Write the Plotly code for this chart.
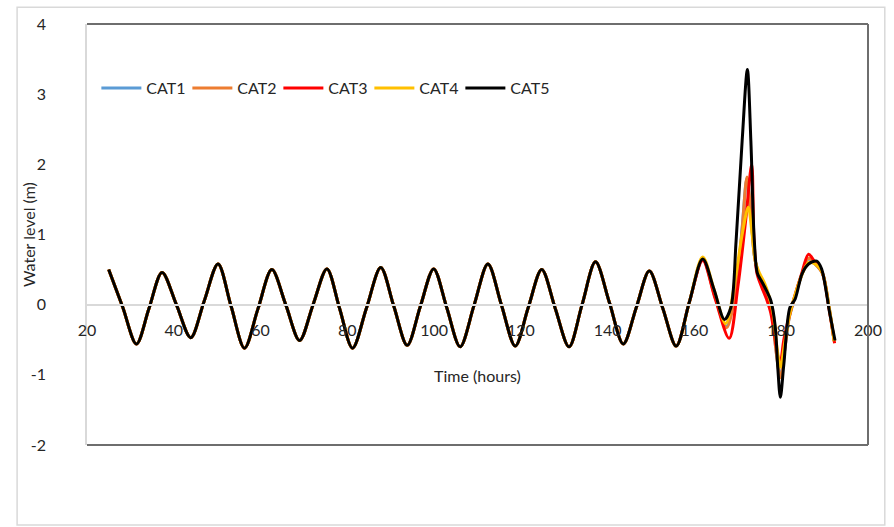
import plotly.graph_objects as go

# ---------------- data ----------------
# Tidal part, common to all five categories (curves coincide up to ~160 h)
tide_hours = [25.0, 28.2, 31.4, 34.3, 37.3, 40.6, 43.9, 47.0, 50.2, 53.2, 56.3, 59.4,
              62.6, 65.8, 69.0, 72.1, 75.3, 78.2, 81.2, 84.4, 87.7, 90.7, 93.8, 96.8,
              99.9, 102.9, 106.0, 109.2, 112.4, 115.5, 118.7, 121.7, 124.8, 127.9,
              131.1, 134.1, 137.2, 140.4, 143.6, 146.6, 149.6, 152.7, 155.8, 158.8]
tide_level = [0.50, -0.03, -0.56, -0.05, 0.46, 0.00, -0.47, 0.05, 0.58, -0.02, -0.62, -0.06,
              0.50, 0.00, -0.51, 0.00, 0.51, -0.05, -0.62, -0.05, 0.53, -0.02, -0.58, -0.03,
              0.51, -0.04, -0.60, -0.01, 0.58, 0.00, -0.59, -0.04, 0.50, -0.05,
              -0.60, 0.00, 0.61, 0.03, -0.56, -0.04, 0.48, -0.05, -0.59, 0.03]

# Storm part, one array pair per category
cat1_hours = [161.9, 164.6, 167.3, 169.8, 171.0, 172.1, 173.0, 173.8, 174.5, 175.7, 176.8,
              177.8, 178.8, 179.8, 180.9, 181.8, 183.1, 184.6, 186.3, 187.8, 189.5, 191.0, 192.2]
cat1_level = [0.65, 0.15, -0.31, 0.35, 1.10, 1.80, 1.30, 0.70, 0.50, 0.30, 0.15,
              -0.10, -0.65, -1.02, -0.60, -0.20, 0.10, 0.40, 0.65, 0.58, 0.45, -0.02, -0.52]

cat2_hours = [161.9, 164.6, 167.4, 169.8, 171.0, 172.1, 173.0, 173.8, 174.5, 175.7, 176.8,
              177.8, 178.8, 179.8, 180.9, 181.8, 183.1, 184.6, 186.3, 187.8, 189.5, 191.0, 192.2]
cat2_level = [0.65, 0.14, -0.33, 0.33, 1.08, 1.82, 1.30, 0.70, 0.50, 0.30, 0.14,
              -0.10, -0.66, -1.04, -0.60, -0.20, 0.10, 0.40, 0.66, 0.58, 0.45, -0.03, -0.52]

cat3_hours = [161.9, 164.8, 168.0, 170.0, 171.8, 173.2, 173.7, 174.4, 175.5, 176.6,
              177.6, 178.6, 179.7, 180.6, 181.5, 183.0, 184.6, 186.3, 187.6, 189.5, 191.0, 192.3]
cat3_level = [0.63, 0.08, -0.48, 0.25, 1.20, 2.00, 0.95, 0.45, 0.25, 0.08,
              -0.12, -0.50, -0.85, -0.50, -0.25, 0.10, 0.42, 0.72, 0.62, 0.45, -0.05, -0.55]

cat4_hours = [161.9, 164.6, 167.2, 169.6, 171.0, 172.4, 173.3, 174.1, 175.0, 176.2, 177.2,
              178.2, 179.0, 179.8, 180.8, 181.8, 183.1, 184.6, 186.3, 187.8, 189.5, 191.0, 192.2]
cat4_level = [0.68, 0.20, -0.27, 0.45, 1.00, 1.39, 1.00, 0.60, 0.45, 0.30, 0.12,
              -0.15, -0.60, -0.89, -0.55, -0.18, 0.12, 0.40, 0.60, 0.58, 0.45, -0.02, -0.52]

cat5_hours = [161.9, 164.5, 166.9, 168.4, 169.6, 171.0, 172.2, 173.0, 173.8, 174.5, 175.6,
              176.6, 177.6, 178.6, 179.2, 179.8, 180.6, 182.0, 183.2, 184.8, 186.3, 188.2,
              189.3, 191.2, 192.4]
cat5_level = [0.65, 0.22, -0.21, -0.04, 0.91, 2.34, 3.35, 2.34, 0.91, 0.45, 0.32,
              0.20, 0.06, -0.30, -0.89, -1.32, -0.85, -0.04, 0.08, 0.44, 0.58, 0.62,
              0.51, -0.13, -0.51]

series_names = ["CAT1", "CAT2", "CAT3", "CAT4", "CAT5"]
series_hours = [cat1_hours, cat2_hours, cat3_hours, cat4_hours, cat5_hours]
series_level = [cat1_level, cat2_level, cat3_level, cat4_level, cat5_level]
series_colors = ["#5B9BD5", "#ED7D31", "#FF0000", "#FFC000", "#000000"]

x_ticks = [20, 40, 60, 80, 100, 120, 140, 160, 180, 200]
y_ticks = [-2, -1, 0, 1, 2, 3, 4]

# ---------------- figure ----------------
FONT = "Lato, 'Open Sans', 'Liberation Sans', sans-serif"
TXT = "#262626"

fig = go.Figure()
for name, hrs, lvl, col in zip(series_names, series_hours, series_level, series_colors):
    fig.add_trace(go.Scatter(
        x=tide_hours + hrs, y=tide_level + lvl, name=name, mode="lines",
        line=dict(color=col, width=3, shape="spline", smoothing=0.9),
    ))

fig.update_layout(
    width=894, height=527,
    margin=dict(l=87, r=18, t=24, b=82),
    paper_bgcolor="white", plot_bgcolor="white",
    font=dict(family=FONT, size=16, color=TXT),
    showlegend=True,
    legend=dict(
        orientation="h", x=0.012, y=0.848, xanchor="left", yanchor="middle",
        bgcolor="rgba(0,0,0,0)", font=dict(size=16, color=TXT),
        itemwidth=40, entrywidth=36, entrywidthmode="pixels", traceorder="normal",
    ),
    xaxis=dict(
        range=[20, 200], tickvals=x_ticks, ticktext=[str(v) for v in x_ticks],
        anchor="free", position=1/3,
        showline=True, linecolor="#D9D9D9", linewidth=1.5,
        showgrid=False, zeroline=False, ticks="", ticklabelstandoff=11,
        tickfont=dict(size=16, color=TXT),
        title=dict(text="Time (hours)", font=dict(size=16, color=TXT), standoff=32),
    ),
    yaxis=dict(
        range=[-2, 4], tickvals=y_ticks, ticktext=[str(v) for v in y_ticks],
        showline=True, linecolor="#D9D9D9", linewidth=1.5,
        showgrid=False, zeroline=False, ticks="", ticklabelstandoff=36,
        tickfont=dict(size=16, color=TXT),
    ),
    annotations=[
        dict(text="Water level (m)", xref="paper", yref="paper", x=-0.0748, y=0.5,
             xanchor="center", yanchor="middle", textangle=-90, showarrow=False,
             font=dict(size=16, color=TXT)),
    ],
    shapes=[
        # outer chart border
        dict(type="rect", xref="paper", yref="paper", x0=-0.0895, x1=1.0215, y0=-0.19, y1=1.04,
             line=dict(color="#D9D9D9", width=1.5), fillcolor="rgba(0,0,0,0)", layer="below"),
        # plot-area border (top, right, bottom)
        dict(type="line", xref="paper", yref="paper", x0=0, x1=1, y0=1, y1=1,
             line=dict(color="#6E6E6E", width=2)),
        dict(type="line", xref="paper", yref="paper", x0=1, x1=1, y0=0, y1=1,
             line=dict(color="#6E6E6E", width=2)),
        dict(type="line", xref="paper", yref="paper", x0=0, x1=1, y0=0, y1=0,
             line=dict(color="#6E6E6E", width=2)),
    ],
)

fig.write_html("out.html")
